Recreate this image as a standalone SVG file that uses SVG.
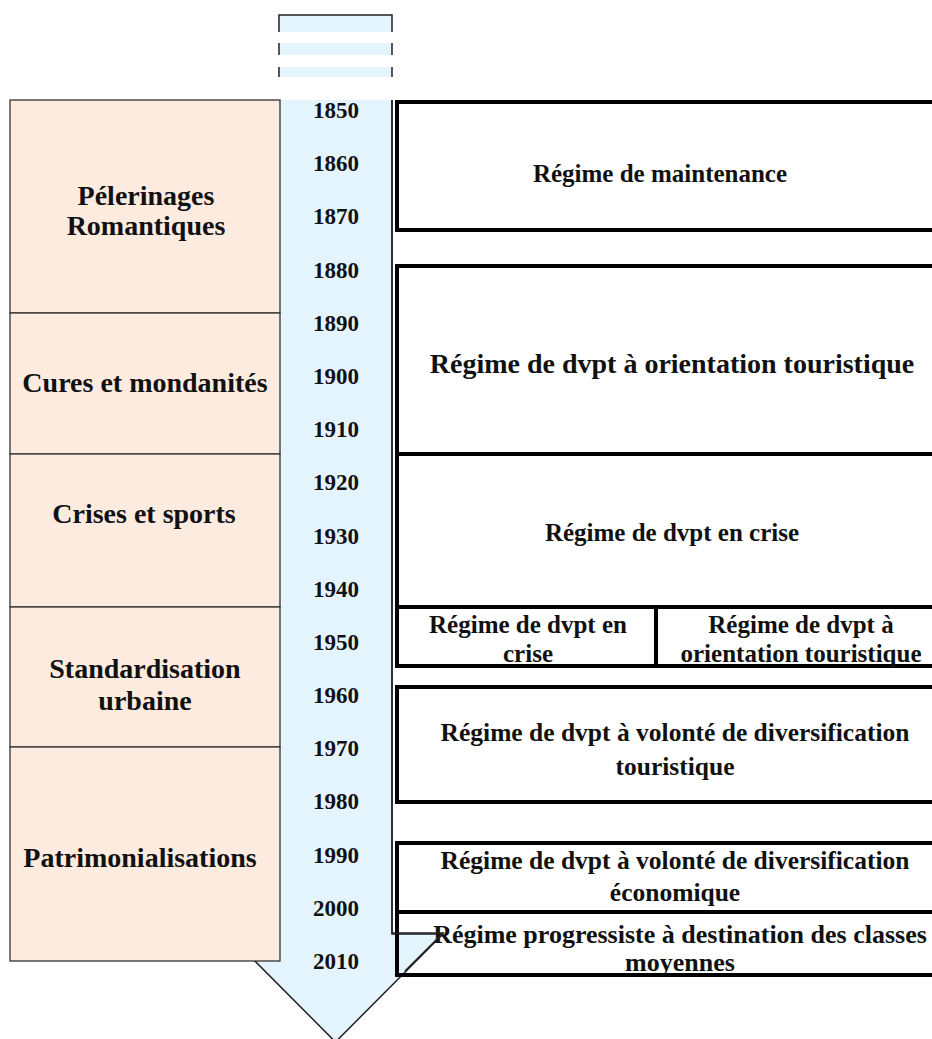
<svg xmlns="http://www.w3.org/2000/svg" width="932" height="1039" viewBox="0 0 932 1039">
<style>
text{font-family:"Liberation Serif","Times New Roman",serif;font-weight:bold;fill:#111;text-anchor:middle}
.yr{font-size:23px}
.lab{font-size:28px}
.rg{font-size:25px}
.md{font-size:25.5px}
.lg{font-size:26px}
.big{font-size:28px}
.era{fill:#FDEBE0;stroke:#333;stroke-width:1.3}
.reg{fill:#fff;stroke:#000;stroke-width:4}
</style>
<rect width="932" height="1039" fill="#fff"/>
<g id="reg7bg"><rect x="397" y="912" width="600" height="63" fill="#fff"/></g>
<g id="arrow">
<polygon points="279,15 392,15 392,934 443,934 335.5,1042 228,934 279,934" fill="#E4F4FD" stroke="#222" stroke-width="1.5"/>
<rect x="274" y="32" width="124" height="11" fill="#fff"/>
<rect x="274" y="55" width="124" height="12" fill="#fff"/>
<rect x="274" y="77" width="124" height="23" fill="#fff"/>
</g>
<g id="eras">
<g id="era1"><rect class="era" x="10" y="100" width="270" height="213"/><text class="lab" x="146" y="205">Pélerinages</text><text class="lab" x="146" y="235">Romantiques</text></g>
<g id="era2"><rect class="era" x="10" y="313" width="270" height="141"/><text class="lab" x="145" y="392">Cures et mondanités</text></g>
<g id="era3"><rect class="era" x="10" y="454" width="270" height="153"/><text class="lab" x="144" y="523">Crises et sports</text></g>
<g id="era4"><rect class="era" x="10" y="607" width="270" height="140"/><text class="lab" x="145" y="678">Standardisation</text><text class="lab" x="145" y="710">urbaine</text></g>
<g id="era5"><rect class="era" x="10" y="747" width="270" height="214"/><text class="lab" x="140" y="867">Patrimonialisations</text></g>
</g>
<g id="years">
<text class="yr" x="336" y="118">1850</text>
<text class="yr" x="336" y="171">1860</text>
<text class="yr" x="336" y="224">1870</text>
<text class="yr" x="336" y="278">1880</text>
<text class="yr" x="336" y="331">1890</text>
<text class="yr" x="336" y="384">1900</text>
<text class="yr" x="336" y="437">1910</text>
<text class="yr" x="336" y="490">1920</text>
<text class="yr" x="336" y="544">1930</text>
<text class="yr" x="336" y="597">1940</text>
<text class="yr" x="336" y="650">1950</text>
<text class="yr" x="336" y="703">1960</text>
<text class="yr" x="336" y="756">1970</text>
<text class="yr" x="336" y="809">1980</text>
<text class="yr" x="336" y="863">1990</text>
<text class="yr" x="336" y="916">2000</text>
<text class="yr" x="336" y="969">2010</text>
</g>
<g id="regimes">
<g id="reg1"><rect class="reg" x="397" y="102" width="600" height="128"/><text class="rg" x="660" y="182">Régime de maintenance</text></g>
<g id="reg2"><rect class="reg" x="397" y="266" width="600" height="188"/><text class="big" x="672" y="373">Régime de dvpt à orientation touristique</text></g>
<g id="reg3"><rect class="reg" x="397" y="454" width="600" height="153"/><text class="rg" x="672" y="541">Régime de dvpt en crise</text></g>
<g id="reg4a"><rect class="reg" x="397" y="607" width="259" height="59"/><text class="rg" x="528" y="633">Régime de dvpt en</text><text class="rg" x="528" y="662">crise</text></g>
<g id="reg4b"><rect class="reg" x="656" y="607" width="341" height="59"/><text class="rg" x="801" y="633">Régime de dvpt à</text><text class="rg" x="801" y="662">orientation touristique</text></g>
<g id="reg5"><rect class="reg" x="397" y="687" width="600" height="115"/><text class="md" x="675" y="741">Régime de dvpt à volonté de diversification</text><text class="md" x="675" y="775">touristique</text></g>
<g id="reg6"><rect class="reg" x="397" y="843" width="600" height="69"/><text class="md" x="675" y="869">Régime de dvpt à volonté de diversification</text><text class="md" x="675" y="901">économique</text></g>
<g id="reg7"><rect class="reg" x="397" y="912" width="600" height="63" style="fill:none"/><text class="lg" x="680" y="943">Régime progressiste à destination des classes</text><text class="lg" x="680" y="971">moyennes</text></g>
</g>
<g id="connectors">
<polyline points="392,100 392,933 443,933 405,971" fill="none" stroke="#222" stroke-width="1.5"/>
</g>
</svg>
